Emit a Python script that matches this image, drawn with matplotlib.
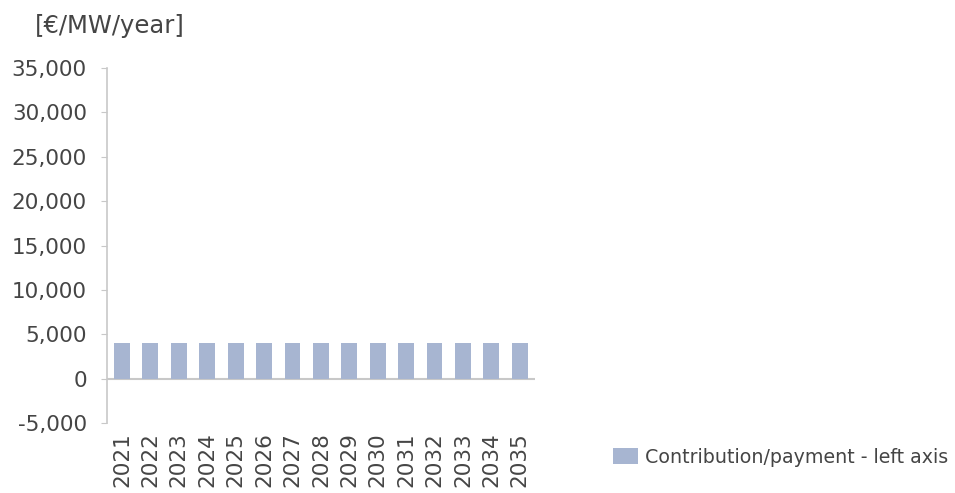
import matplotlib
matplotlib.use("Agg")
import matplotlib.pyplot as plt
from matplotlib.ticker import FuncFormatter, MultipleLocator

plt.rcParams["font.family"] = ["DejaVu Sans"]

years = [str(y) for y in range(2021, 2036)]
contribution = [4000] * 15

bar_color = "#a7b5d1"
text_color = "#454545"
axis_color = "#c8c8c8"

fig = plt.figure(figsize=(9.55, 4.93), dpi=100)
ax = fig.add_axes([0.112, 0.142, 0.448, 0.720])

x = range(len(years))
bars = ax.bar(x, contribution, width=0.56, color=bar_color,
              label="Contribution/payment - left axis", zorder=2)

ax.set_ylim(-5000, 35000)
ax.set_xlim(-0.53, len(years) - 0.47)
ax.yaxis.set_major_locator(MultipleLocator(5000))
ax.yaxis.set_major_formatter(FuncFormatter(lambda v, p: f"{int(v):,}"))
ax.set_xticks(list(x))
ax.set_xticklabels(years, rotation=90)

for s in ["top", "right", "bottom"]:
    ax.spines[s].set_visible(False)
ax.spines["left"].set_color(axis_color)
ax.spines["left"].set_linewidth(1.2)
ax.axhline(0, color=axis_color, linewidth=1.5, zorder=1)

ax.tick_params(axis="y", colors=axis_color, labelcolor=text_color,
               labelsize=15.5, length=4, pad=10.5)
ax.tick_params(axis="x", length=0, labelcolor=text_color, labelsize=15.5, pad=6.5)

fig.text(0.037, 0.948, "[€/MW/year]", fontsize=17.5, color=text_color,
         ha="left", va="center")

leg = fig.legend(handles=[bars], labels=["Contribution/payment - left axis"],
                 loc="center left", bbox_to_anchor=(0.642, 0.073),
                 frameon=False, fontsize=13.7, handlelength=1.3,
                 handleheight=0.9, handletextpad=0.4, borderpad=0,
                 borderaxespad=0)
for t in leg.get_texts():
    t.set_color(text_color)

fig.savefig("out.png", dpi=100)
